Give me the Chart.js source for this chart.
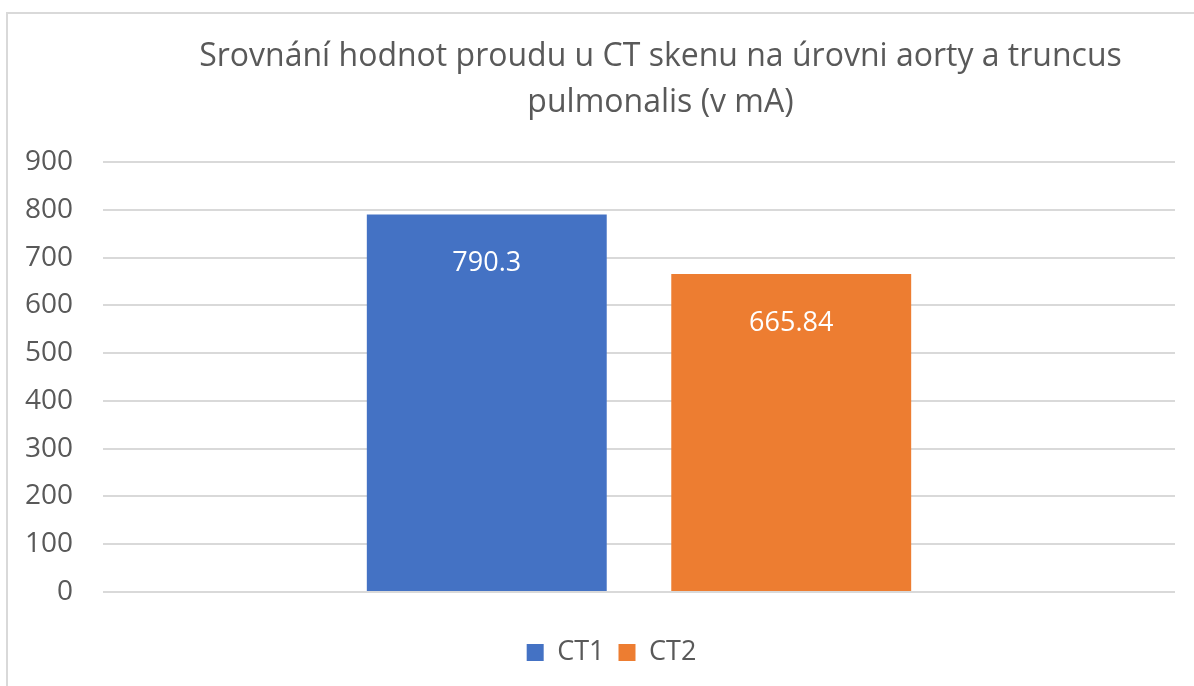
<!DOCTYPE html>
<html>
<head>
<meta charset="utf-8">
<script src="https://cdn.jsdelivr.net/npm/chart.js@4/dist/chart.umd.min.js"></script>
<style>
  html, body { margin: 0; padding: 0; background: #fff; overflow: hidden; }
  .frame {
    position: absolute; left: 6px; top: 12px;
    width: 1400px; height: 900px;
    border-left: 2px solid #d9d9d9; border-top: 2px solid #d9d9d9;
  }
  .wrap { position: absolute; left: 8px; top: 15px; width: 1186px; height: 671px; }
</style>
</head>
<body>
<div class="frame"></div>
<div class="wrap"><canvas id="chart"></canvas></div>
<script>
// chart data
const categories = [''];
const seriesNames = ['CT1', 'CT2'];
const seriesValues = [[790.3], [665.84]];
const seriesColors = ['#4472C4', '#ED7D31'];
const titleLines = ['Srovnání hodnot proudu u CT skenu na úrovni aorty a truncus', 'pulmonalis (v mA)'];
const yTicks = [0, 100, 200, 300, 400, 500, 600, 700, 800, 900];

const TEXT = '#595959';
const FONT = "'Open Sans', 'Noto Sans', sans-serif";

// white value labels inside the bars, near the top
const valueLabels = {
  id: 'valueLabels',
  afterDatasetsDraw(chart) {
    const ctx = chart.ctx;
    ctx.save();
    ctx.fillStyle = '#ffffff';
    ctx.font = '27px ' + FONT;
    ctx.textAlign = 'center';
    ctx.textBaseline = 'middle';
    chart.data.datasets.forEach((ds, i) => {
      chart.getDatasetMeta(i).data.forEach((bar, j) => {
        ctx.fillText(String(ds.data[j]), bar.x, bar.y + 49);
      });
    });
    ctx.restore();
  }
};

// nudge title and legend to where Excel puts them
const shiftBoxes = {
  id: 'shiftBoxes',
  afterLayout(chart) {
    const t = chart.titleBlock;
    if (t) { t.left += 69; t.right += 69; }
    const l = chart.legend;
    if (l) { l.left += 20; l.right += 20; }
  }
};

new Chart(document.getElementById('chart'), {
  type: 'bar',
  data: {
    labels: categories,
    datasets: seriesNames.map((name, i) => ({
      label: name,
      data: seriesValues[i],
      backgroundColor: seriesColors[i],
      borderWidth: 0
    }))
  },
  options: {
    responsive: true,
    maintainAspectRatio: false,
    animation: false,
    categoryPercentage: 0.568,
    barPercentage: 0.788,
    layout: { padding: { left: 0, right: 19, top: 0, bottom: 10 } },
    plugins: {
      title: {
        display: true,
        text: titleLines,
        color: TEXT,
        font: { family: FONT, size: 32, weight: 'normal', lineHeight: 1.44 },
        padding: { top: 19, bottom: 36 }
      },
      legend: {
        position: 'bottom',
        labels: {
          color: TEXT,
          font: { family: FONT, size: 27 },
          boxWidth: 17,
          boxHeight: 17,
          padding: 14
        }
      },
      tooltip: { enabled: false }
    },
    scales: {
      x: {
        display: true,
        ticks: { display: false },
        grid: { display: false, drawTicks: false },
        border: { display: false },
        afterFit(scale) { scale.height = 33; }
      },
      y: {
        min: 0,
        max: 900,
        afterFit(scale) { scale.width = 95; },
        afterBuildTicks(scale) { scale.ticks = yTicks.map(v => ({ value: v })); },
        ticks: { color: TEXT, font: { family: FONT, size: 28 }, padding: 30 },
        grid: { color: '#d9d9d9', lineWidth: 2, drawTicks: false },
        border: { display: false }
      }
    }
  },
  plugins: [valueLabels, shiftBoxes]
});
</script>
</body>
</html>
